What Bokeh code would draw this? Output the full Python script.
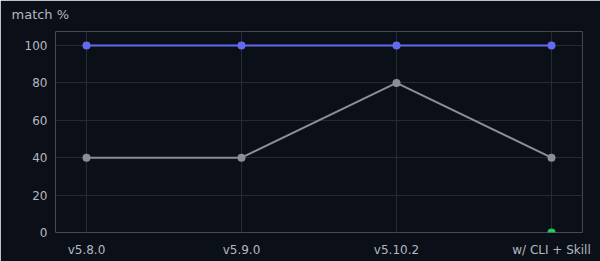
import numpy as np
from bokeh.plotting import figure
from bokeh.models import Range1d, FixedTicker, ColumnDataSource
from bokeh.embed import file_html
from bokeh.resources import INLINE

categories = ["v5.8.0", "v5.9.0", "v5.10.2", "w/ CLI + Skill"]
series_blue = [100, 100, 100, 100]
series_grey = [40, 40, 80, 40]
series_green = [np.nan, np.nan, np.nan, 0]
y_ticks = [0, 20, 40, 60, 80, 100]
y_title = "match %"

BG = "#0b0f17"
GRID = "#262a33"
TXT = "#b4b8c0"
FONT = "DejaVu Sans"

xs = list(range(len(categories)))

p = figure(width=600, height=261, output_backend="svg", toolbar_location=None,
           x_range=Range1d(-0.2, len(categories) - 1 + 0.2), y_range=Range1d(0, 107.5),
           min_border_left=55, min_border_right=18, min_border_top=31, min_border_bottom=29,
           title=y_title + "\n ")
p.background_fill_color = BG
p.border_fill_color = BG
p.outline_line_color = None

p.title.text_color = TXT
p.title.text_font = FONT
p.title.text_font_size = "13px"
p.title.text_font_style = "normal"
p.title.align = "left"
p.title.offset = -44
p.title.text_line_height = 0.27

for ax in (p.xaxis[0], p.yaxis[0]):
    ax.axis_line_color = None
    ax.major_tick_line_color = None
    ax.minor_tick_line_color = None
    ax.major_label_text_color = TXT
    ax.major_label_text_font = FONT
    ax.major_label_text_font_size = "12px"

p.xaxis.ticker = FixedTicker(ticks=xs)
p.xaxis.major_label_overrides = {i: c for i, c in zip(xs, categories)}
p.xaxis.major_label_standoff = 4
p.yaxis.ticker = FixedTicker(ticks=y_ticks)
p.yaxis.major_label_standoff = 2

p.xgrid.grid_line_color = GRID
p.ygrid.grid_line_color = GRID
p.ygrid.ticker = FixedTicker(ticks=[t for t in y_ticks if t != 0])
p.xgrid.grid_line_width = 1
p.ygrid.grid_line_width = 1

src = ColumnDataSource(dict(x=xs, b=series_blue, g=series_grey, gr=series_green))
p.line("x", "g", source=src, line_color="#8b8e98", line_width=2)
p.scatter("x", "g", source=src, size=8, fill_color="#8b8e98", line_color=None)
p.line("x", "b", source=src, line_color="#636af0", line_width=2)
p.scatter("x", "b", source=src, size=8, fill_color="#636af0", line_color=None)
p.scatter("x", "gr", source=src, size=8, fill_color="#22c55e", line_color=None)

open("out.html", "w").write(file_html(p, INLINE))
